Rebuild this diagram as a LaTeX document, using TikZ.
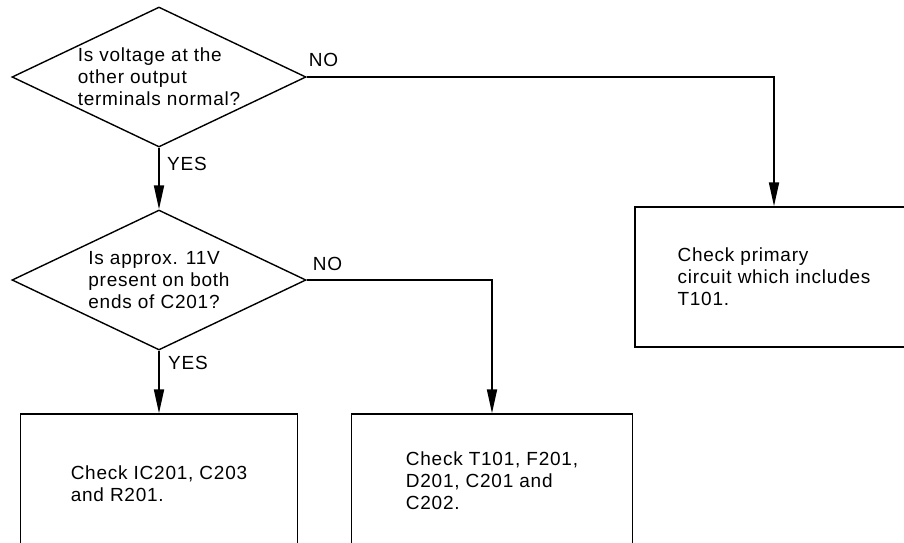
\documentclass[tikz,border=0pt]{standalone}
\usepackage{fontspec}
\setmainfont[LetterSpace=4]{Liberation Sans}
\usetikzlibrary{shapes.geometric, arrows.meta, positioning}

\begin{document}
\begin{tikzpicture}[
    x=1pt, y=1pt,
    every node/.style={font=\fontsize{19}{22}\selectfont},
    query/.style={draw, diamond, shape aspect=2.1, line width=1.4pt, minimum width=294pt,
                  minimum height=140pt, inner sep=0pt, align=left},
    box/.style={draw, rectangle, line width=1.4pt, minimum width=278pt, minimum height=140pt,
                align=left},
    lbl/.style={inner sep=0pt},
    arr/.style={-{Triangle[length=24pt, width=10pt]}, line width=1.8pt}
]
    \useasboundingbox (0,0) rectangle (904,-542);

    % left column: the two questions
    \node[query] (q1) at (159,-77)  {Is voltage at the\\other output\\terminals normal?};
    \node[query] (q2) at (159,-280) {Is approx. 11V\\present on both\\ends of C201?};

    % the three checks
    \node[box] (r1) at (774,-277) {Check primary\\circuit which includes\\T101.};
    \node[box, minimum width=277pt] (r2) at (159,-484) {Check IC201, C203\\and R201.};
    \node[box, minimum width=281pt, minimum height=134pt] (r3) at (492,-481) {Check T101, F201,\\D201, C201 and\\C202.};

    % answers
    \node[lbl, above right=10pt and 2pt of q1.east] (no1) {NO};
    \node[lbl, below right=9pt and 8pt of q1.south] (yes1) {YES};
    \node[lbl, above right=9pt and 6pt of q2.east] (no2) {NO};
    \node[lbl, below right=5pt and 9pt of q2.south] (yes2) {YES};

    \draw[arr] (q1.south) -- (q2.north);
    \draw[arr] (q1.east) -| (r1.north);
    \draw[arr] (q2.south) -- (r2.north);
    \draw[arr] (q2.east) -| (r3.north);
\end{tikzpicture}
\end{document}
